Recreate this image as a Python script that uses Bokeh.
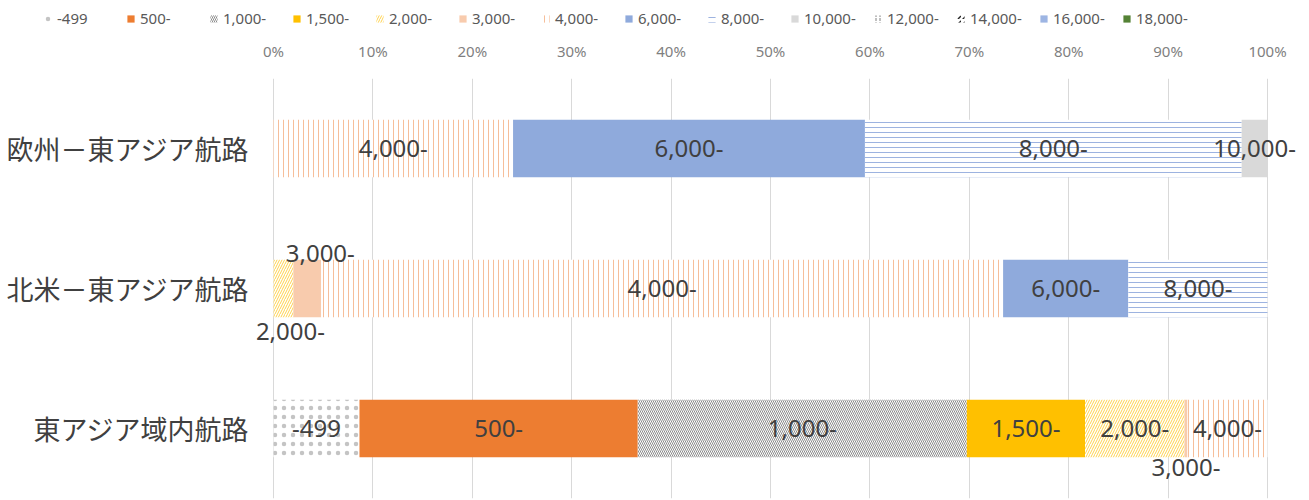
from bokeh.plotting import figure
from bokeh.layouts import column
from bokeh.models import (ColumnDataSource, FactorRange, Range1d, FixedTicker,
                          NumeralTickFormatter, Legend, LegendItem, LabelSet)
from bokeh.core.properties import value
from bokeh.embed import file_html
from bokeh.resources import INLINE

# Routes (top to bottom) and vessel size bands (TEU)
routes = ["欧州－東アジア航路", "北米－東アジア航路", "東アジア域内航路"]
bands = ["-499", "500-", "1,000-", "1,500-", "2,000-", "3,000-", "4,000-",
         "6,000-", "8,000-", "10,000-", "12,000-", "14,000-", "16,000-", "18,000-"]

# Share of capacity (%) by size band for each route
europe_asia = [0, 0, 0, 0, 0, 0, 24.1, 35.4, 37.9, 2.6, 0, 0, 0, 0]
namerica_asia = [0, 0, 0, 0, 2.0, 2.8, 68.6, 12.6, 14.0, 0, 0, 0, 0, 0]
intra_asia = [8.65, 28.0, 33.1, 11.9, 10.0, 0.3, 8.05, 0, 0, 0, 0, 0, 0, 0]

# Percentage axis ticks
pct_ticks = [0, 0.1, 0.2, 0.3, 0.4, 0.5, 0.6, 0.7, 0.8, 0.9, 1.0]

shares = {routes[0]: europe_asia, routes[1]: namerica_asia, routes[2]: intra_asia}

# Fill / hatch style per band
styles = {
    "-499":    dict(fill_color="white", hatch_pattern="dot", hatch_color="#c4c4c4", hatch_scale=9, hatch_weight=1),
    "500-":    dict(fill_color="#ED7D31"),
    "1,000-":  dict(fill_color="white", hatch_pattern="left_diagonal_line", hatch_color="#8c8c8c", hatch_scale=4, hatch_weight=1),
    "1,500-":  dict(fill_color="#FFC000"),
    "2,000-":  dict(fill_color="white", hatch_pattern="right_diagonal_line", hatch_color="#FFD24D", hatch_scale=5, hatch_weight=1),
    "3,000-":  dict(fill_color="#F8CBAD"),
    "4,000-":  dict(fill_color="white", hatch_pattern="vertical_line", hatch_color="#F6BE9A", hatch_scale=5, hatch_weight=1),
    "6,000-":  dict(fill_color="#8FAADC"),
    "8,000-":  dict(fill_color="white", hatch_pattern="horizontal_line", hatch_color="#9DB3E0", hatch_scale=5, hatch_weight=1),
    "10,000-": dict(fill_color="#D9D9D9"),
    "12,000-": dict(fill_color="white", hatch_pattern="vertical_dash", hatch_color="#808080", hatch_scale=4, hatch_weight=1),
    "14,000-": dict(fill_color="white", hatch_pattern="right_diagonal_dash", hatch_color="#262626", hatch_scale=5, hatch_weight=1.5),
    "16,000-": dict(fill_color="#9DB5E3"),
    "18,000-": dict(fill_color="#548235"),
}

# Manual nudges (screen px, +y is up) for labels of very thin segments
label_nudge = {
    (routes[1], "2,000-"): (7, -43),
    (routes[1], "3,000-"): (13, 35),
    (routes[2], "3,000-"): (0, -39),
}

W = 1309
PLOT_LEFT, PLOT_RIGHT = 273, 1267          # pixel span of 0%..100%
px_per_unit = PLOT_RIGHT - PLOT_LEFT
LEG_H = 34

# ---- legend strip -------------------------------------------------------
# Each swatch renderer holds a single zero-width bar so the legend can draw its icon.
leg_fig = figure(width=W, height=LEG_H, output_backend="svg", toolbar_location=None,
                 x_range=Range1d(0, 1), y_range=Range1d(0, 1),
                 x_axis_location=None, y_axis_location=None,
                 min_border=0)
leg_fig.outline_line_color = None
leg_fig.grid.visible = False
legend_items = []
for band in bands:
    swatch = leg_fig.hbar(y="y", left="left", right="right", height=0.4,
                          source=ColumnDataSource(dict(y=[0.5], left=[0.0], right=[0.0])),
                          line_color=None, **styles[band])
    legend_items.append(LegendItem(label=band, renderers=[swatch]))
legend = Legend(items=legend_items, orientation="horizontal", location=(43, 6),
                border_line_color=None, background_fill_alpha=0,
                label_text_font="Noto Sans", label_text_font_size="15px", label_text_color="#595959",
                glyph_width=9, glyph_height=9, label_standoff=5, label_width=69, spacing=0,
                padding=4, margin=0)
leg_fig.add_layout(legend)

# ---- main chart ---------------------------------------------------------
p = figure(width=W, height=500 - LEG_H, output_backend="svg", toolbar_location=None,
           x_range=Range1d(-PLOT_LEFT / px_per_unit, (W - PLOT_LEFT) / px_per_unit),
           y_range=FactorRange(factors=list(reversed(routes))),
           x_axis_location="above", y_axis_location=None,
           min_border_left=0, min_border_right=0, min_border_top=78 - LEG_H, min_border_bottom=2)
p.outline_line_color = None

left = {r: 0.0 for r in routes}
lab = dict(x=[], y=[], text=[], dx=[], dy=[])
for i, band in enumerate(bands):
    lefts, rights = [], []
    for r in routes:
        v = shares[r][i] / 100.0
        lefts.append(left[r])
        rights.append(left[r] + v)
        if v > 0:
            dx, dy = label_nudge.get((r, band), (0, 0))
            lab["x"].append(left[r] + v / 2)
            lab["y"].append(r)
            lab["text"].append(band)
            lab["dx"].append(dx)
            lab["dy"].append(dy)
        left[r] += v
    src = ColumnDataSource(dict(y=routes, left=lefts, right=rights))
    p.hbar(y="y", left="left", right="right", height=0.41, source=src,
           line_color=None, **styles[band])

p.add_layout(LabelSet(x="x", y="y", text="text", x_offset="dx", y_offset="dy",
                      source=ColumnDataSource(lab), text_align="center", text_baseline="middle",
                      text_font=value("Noto Sans"), text_font_size="24px", text_color="#404040"))

# Route names, right-aligned just left of the 0% line
p.text(x=[0] * len(routes), y=routes, text=routes, x_offset=-24,
       text_align="right", text_baseline="middle",
       text_font=value("Noto Sans CJK JP"), text_font_size="27px", text_color="#404040")

# Top percentage axis
xa = p.xaxis[0]
xa.ticker = FixedTicker(ticks=pct_ticks)
xa.formatter = NumeralTickFormatter(format="0%")
xa.axis_line_color = None
xa.major_tick_line_color = None
xa.minor_tick_line_color = None
xa.major_label_standoff = 12
xa.major_label_text_font = "Noto Sans"
xa.major_label_text_font_size = "15px"
xa.major_label_text_color = "#7f7f7f"

p.xgrid.grid_line_color = "#D9D9D9"
p.ygrid.grid_line_color = None

open("out.html", "w").write(file_html(column(leg_fig, p, spacing=0), INLINE))
